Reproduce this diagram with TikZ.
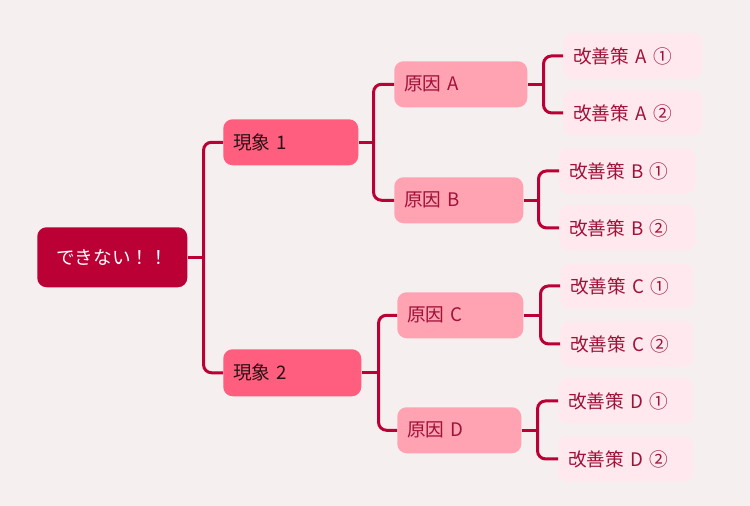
\documentclass[tikz,border=0pt]{standalone}
\usepackage{fontspec}
\setmainfont{Noto Sans CJK JP}
\definecolor{bgpink}{RGB}{245,239,240}
\definecolor{rootred}{RGB}{187,0,54}
\definecolor{lvlone}{RGB}{255,94,126}
\definecolor{lvltwo}{RGB}{255,163,178}
\definecolor{lvlthree}{RGB}{255,233,238}
\definecolor{textdark}{RGB}{42,18,22}
\definecolor{textred}{RGB}{160,18,58}
\begin{document}
\begin{tikzpicture}[x=0.75pt,y=0.75pt,yscale=-1,xscale=1,
  box/.style={rounded corners=7pt,inner xsep=7.5pt,inner ysep=0pt,minimum height=34.5pt,align=left,anchor=north west,font=\fontsize{14}{16}\selectfont},
  rootbox/.style={box,fill=rootred,text=white,align=center,minimum width=112.5pt,minimum height=45pt},
  causebox/.style={box,fill=lvlone,text=textdark},
  reasonbox/.style={box,fill=lvltwo,text=textred},
  fixbox/.style={box,fill=lvlthree,text=textred,minimum height=34pt},
  conn/.style={draw=rootred,line width=2.25pt,rounded corners=6pt}]
\fill[bgpink] (0,0) rectangle (750,506);
\useasboundingbox (0,0) rectangle (750,506);
% root
\node [rootbox] (root) at (37,227) {できない！！};
% phenomena
\node [causebox,text width=86.25pt] (p1) at (223,119) {現象 1};
\node [causebox,text width=88.5pt,minimum height=35.25pt] (p2) at (223,349) {現象 2};
% causes
\node [reasonbox,text width=84.75pt] (c1) at (394,61) {原因 A};
\node [reasonbox,text width=81.75pt] (c2) at (394,177) {原因 B};
\node [reasonbox,text width=79.5pt] (c3) at (397,292) {原因 C};
\node [reasonbox,text width=78pt] (c4) at (397,407) {原因 D};
% fixes
\node [fixbox,text width=89.25pt] (s1) at (563,33) {改善策 A ①};
\node [fixbox,text width=89.25pt] (s2) at (563,90) {改善策 A ②};
\node [fixbox,text width=87pt] (s3) at (559,148) {改善策 B ①};
\node [fixbox,text width=87pt] (s4) at (559,205) {改善策 B ②};
\node [fixbox,text width=84.75pt] (s5) at (560,263) {改善策 C ①};
\node [fixbox,text width=84.75pt] (s6) at (560,321) {改善策 C ②};
\node [fixbox,text width=86.25pt] (s7) at (558,378) {改善策 D ①};
\node [fixbox,text width=86.25pt] (s8) at (558,436) {改善策 D ②};
% connectors
\draw [conn] (root.east) -- ++(16,0) coordinate (f0);
\draw [conn] (p1.west) -| (f0) |- (p2.west);
\draw [conn] (p1.east) -- ++(15,0) coordinate (f1);
\draw [conn] (c1.west) -| (f1) |- (c2.west);
\draw [conn] (p2.east) -- ++(17,0) coordinate (f2);
\draw [conn] (c3.west) -| (f2) |- (c4.west);
\draw [conn] (c1.east) -- ++(16,0) coordinate (f3);
\draw [conn] (s1.west) -| (f3) |- (s2.west);
\draw [conn] (c2.east) -- ++(15,0) coordinate (f4);
\draw [conn] (s3.west) -| (f4) |- (s4.west);
\draw [conn] (c3.east) -- ++(17,0) coordinate (f5);
\draw [conn] (s5.west) -| (f5) |- (s6.west);
\draw [conn] (c4.east) -- ++(16,0) coordinate (f6);
\draw [conn] (s7.west) -| (f6) |- (s8.west);
\end{tikzpicture}
\end{document}
